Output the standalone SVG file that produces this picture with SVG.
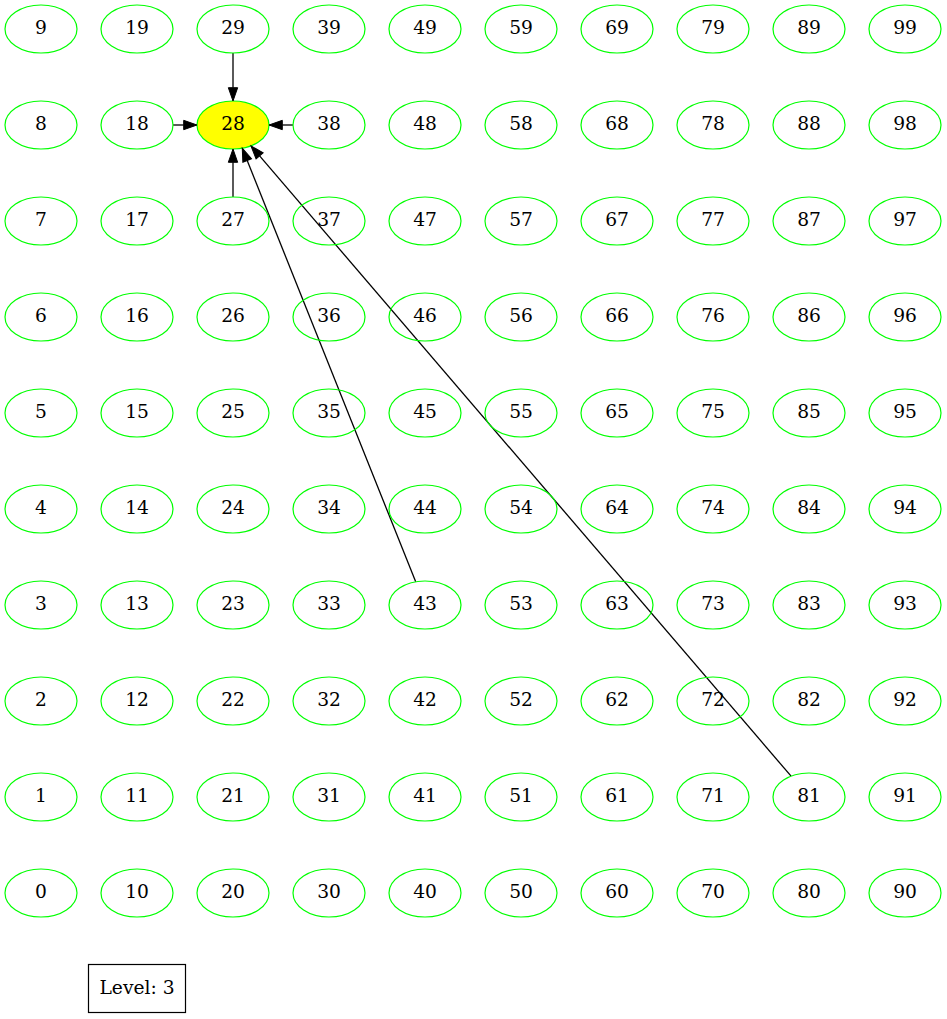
<svg xmlns="http://www.w3.org/2000/svg" width="947" height="1019" viewBox="0 0 947 1019">
<style>
.n ellipse{fill:none;stroke:#00ff00;stroke-width:1.2}
.n text,.lv text{font-family:"DejaVu Serif","Liberation Serif",serif;font-size:18.67px;text-anchor:middle;fill:#000}
.n text{transform:translateY(-1px)}
.e line{stroke:#000;stroke-width:1.3;marker-end:url(#ah)}
.n.hl ellipse{fill:#ffff00}
</style>
<defs>
<marker id="ah" markerUnits="userSpaceOnUse" markerWidth="14" markerHeight="10" refX="0" refY="5" orient="auto" overflow="visible">
<path d="M0,0.33 L13.3,5 L0,9.67 Z" fill="#000" stroke="#000" stroke-width="1"/>
</marker>
</defs>
<rect width="947" height="1019" fill="#fff"/>
<g id="n28" class="n hl"><ellipse cx="233" cy="125" rx="36" ry="24"/><text x="233" y="131">28</text></g>
<g id="edges" class="e">
<line x1="233" y1="53" x2="233" y2="87.7"/>
<line x1="173" y1="125" x2="183.7" y2="125"/>
<line x1="293" y1="125" x2="282.3" y2="125"/>
<line x1="233" y1="197" x2="233" y2="162.3"/>
<line x1="415.7" y1="581.8" x2="247.2" y2="160.5"/>
<line x1="791.1" y1="776.2" x2="259.6" y2="155.9"/>
</g>
<g id="n0" class="n"><ellipse cx="41" cy="893" rx="36" ry="24"/><text x="41" y="899">0</text></g>
<g id="n1" class="n"><ellipse cx="41" cy="797" rx="36" ry="24"/><text x="41" y="803">1</text></g>
<g id="n2" class="n"><ellipse cx="41" cy="701" rx="36" ry="24"/><text x="41" y="707">2</text></g>
<g id="n3" class="n"><ellipse cx="41" cy="605" rx="36" ry="24"/><text x="41" y="611">3</text></g>
<g id="n4" class="n"><ellipse cx="41" cy="509" rx="36" ry="24"/><text x="41" y="515">4</text></g>
<g id="n5" class="n"><ellipse cx="41" cy="413" rx="36" ry="24"/><text x="41" y="419">5</text></g>
<g id="n6" class="n"><ellipse cx="41" cy="317" rx="36" ry="24"/><text x="41" y="323">6</text></g>
<g id="n7" class="n"><ellipse cx="41" cy="221" rx="36" ry="24"/><text x="41" y="227">7</text></g>
<g id="n8" class="n"><ellipse cx="41" cy="125" rx="36" ry="24"/><text x="41" y="131">8</text></g>
<g id="n9" class="n"><ellipse cx="41" cy="29" rx="36" ry="24"/><text x="41" y="35">9</text></g>
<g id="n10" class="n"><ellipse cx="137" cy="893" rx="36" ry="24"/><text x="137" y="899">10</text></g>
<g id="n11" class="n"><ellipse cx="137" cy="797" rx="36" ry="24"/><text x="137" y="803">11</text></g>
<g id="n12" class="n"><ellipse cx="137" cy="701" rx="36" ry="24"/><text x="137" y="707">12</text></g>
<g id="n13" class="n"><ellipse cx="137" cy="605" rx="36" ry="24"/><text x="137" y="611">13</text></g>
<g id="n14" class="n"><ellipse cx="137" cy="509" rx="36" ry="24"/><text x="137" y="515">14</text></g>
<g id="n15" class="n"><ellipse cx="137" cy="413" rx="36" ry="24"/><text x="137" y="419">15</text></g>
<g id="n16" class="n"><ellipse cx="137" cy="317" rx="36" ry="24"/><text x="137" y="323">16</text></g>
<g id="n17" class="n"><ellipse cx="137" cy="221" rx="36" ry="24"/><text x="137" y="227">17</text></g>
<g id="n18" class="n"><ellipse cx="137" cy="125" rx="36" ry="24"/><text x="137" y="131">18</text></g>
<g id="n19" class="n"><ellipse cx="137" cy="29" rx="36" ry="24"/><text x="137" y="35">19</text></g>
<g id="n20" class="n"><ellipse cx="233" cy="893" rx="36" ry="24"/><text x="233" y="899">20</text></g>
<g id="n21" class="n"><ellipse cx="233" cy="797" rx="36" ry="24"/><text x="233" y="803">21</text></g>
<g id="n22" class="n"><ellipse cx="233" cy="701" rx="36" ry="24"/><text x="233" y="707">22</text></g>
<g id="n23" class="n"><ellipse cx="233" cy="605" rx="36" ry="24"/><text x="233" y="611">23</text></g>
<g id="n24" class="n"><ellipse cx="233" cy="509" rx="36" ry="24"/><text x="233" y="515">24</text></g>
<g id="n25" class="n"><ellipse cx="233" cy="413" rx="36" ry="24"/><text x="233" y="419">25</text></g>
<g id="n26" class="n"><ellipse cx="233" cy="317" rx="36" ry="24"/><text x="233" y="323">26</text></g>
<g id="n27" class="n"><ellipse cx="233" cy="221" rx="36" ry="24"/><text x="233" y="227">27</text></g>
<g id="n29" class="n"><ellipse cx="233" cy="29" rx="36" ry="24"/><text x="233" y="35">29</text></g>
<g id="n30" class="n"><ellipse cx="329" cy="893" rx="36" ry="24"/><text x="329" y="899">30</text></g>
<g id="n31" class="n"><ellipse cx="329" cy="797" rx="36" ry="24"/><text x="329" y="803">31</text></g>
<g id="n32" class="n"><ellipse cx="329" cy="701" rx="36" ry="24"/><text x="329" y="707">32</text></g>
<g id="n33" class="n"><ellipse cx="329" cy="605" rx="36" ry="24"/><text x="329" y="611">33</text></g>
<g id="n34" class="n"><ellipse cx="329" cy="509" rx="36" ry="24"/><text x="329" y="515">34</text></g>
<g id="n35" class="n"><ellipse cx="329" cy="413" rx="36" ry="24"/><text x="329" y="419">35</text></g>
<g id="n36" class="n"><ellipse cx="329" cy="317" rx="36" ry="24"/><text x="329" y="323">36</text></g>
<g id="n37" class="n"><ellipse cx="329" cy="221" rx="36" ry="24"/><text x="329" y="227">37</text></g>
<g id="n38" class="n"><ellipse cx="329" cy="125" rx="36" ry="24"/><text x="329" y="131">38</text></g>
<g id="n39" class="n"><ellipse cx="329" cy="29" rx="36" ry="24"/><text x="329" y="35">39</text></g>
<g id="n40" class="n"><ellipse cx="425" cy="893" rx="36" ry="24"/><text x="425" y="899">40</text></g>
<g id="n41" class="n"><ellipse cx="425" cy="797" rx="36" ry="24"/><text x="425" y="803">41</text></g>
<g id="n42" class="n"><ellipse cx="425" cy="701" rx="36" ry="24"/><text x="425" y="707">42</text></g>
<g id="n43" class="n"><ellipse cx="425" cy="605" rx="36" ry="24"/><text x="425" y="611">43</text></g>
<g id="n44" class="n"><ellipse cx="425" cy="509" rx="36" ry="24"/><text x="425" y="515">44</text></g>
<g id="n45" class="n"><ellipse cx="425" cy="413" rx="36" ry="24"/><text x="425" y="419">45</text></g>
<g id="n46" class="n"><ellipse cx="425" cy="317" rx="36" ry="24"/><text x="425" y="323">46</text></g>
<g id="n47" class="n"><ellipse cx="425" cy="221" rx="36" ry="24"/><text x="425" y="227">47</text></g>
<g id="n48" class="n"><ellipse cx="425" cy="125" rx="36" ry="24"/><text x="425" y="131">48</text></g>
<g id="n49" class="n"><ellipse cx="425" cy="29" rx="36" ry="24"/><text x="425" y="35">49</text></g>
<g id="n50" class="n"><ellipse cx="521" cy="893" rx="36" ry="24"/><text x="521" y="899">50</text></g>
<g id="n51" class="n"><ellipse cx="521" cy="797" rx="36" ry="24"/><text x="521" y="803">51</text></g>
<g id="n52" class="n"><ellipse cx="521" cy="701" rx="36" ry="24"/><text x="521" y="707">52</text></g>
<g id="n53" class="n"><ellipse cx="521" cy="605" rx="36" ry="24"/><text x="521" y="611">53</text></g>
<g id="n54" class="n"><ellipse cx="521" cy="509" rx="36" ry="24"/><text x="521" y="515">54</text></g>
<g id="n55" class="n"><ellipse cx="521" cy="413" rx="36" ry="24"/><text x="521" y="419">55</text></g>
<g id="n56" class="n"><ellipse cx="521" cy="317" rx="36" ry="24"/><text x="521" y="323">56</text></g>
<g id="n57" class="n"><ellipse cx="521" cy="221" rx="36" ry="24"/><text x="521" y="227">57</text></g>
<g id="n58" class="n"><ellipse cx="521" cy="125" rx="36" ry="24"/><text x="521" y="131">58</text></g>
<g id="n59" class="n"><ellipse cx="521" cy="29" rx="36" ry="24"/><text x="521" y="35">59</text></g>
<g id="n60" class="n"><ellipse cx="617" cy="893" rx="36" ry="24"/><text x="617" y="899">60</text></g>
<g id="n61" class="n"><ellipse cx="617" cy="797" rx="36" ry="24"/><text x="617" y="803">61</text></g>
<g id="n62" class="n"><ellipse cx="617" cy="701" rx="36" ry="24"/><text x="617" y="707">62</text></g>
<g id="n63" class="n"><ellipse cx="617" cy="605" rx="36" ry="24"/><text x="617" y="611">63</text></g>
<g id="n64" class="n"><ellipse cx="617" cy="509" rx="36" ry="24"/><text x="617" y="515">64</text></g>
<g id="n65" class="n"><ellipse cx="617" cy="413" rx="36" ry="24"/><text x="617" y="419">65</text></g>
<g id="n66" class="n"><ellipse cx="617" cy="317" rx="36" ry="24"/><text x="617" y="323">66</text></g>
<g id="n67" class="n"><ellipse cx="617" cy="221" rx="36" ry="24"/><text x="617" y="227">67</text></g>
<g id="n68" class="n"><ellipse cx="617" cy="125" rx="36" ry="24"/><text x="617" y="131">68</text></g>
<g id="n69" class="n"><ellipse cx="617" cy="29" rx="36" ry="24"/><text x="617" y="35">69</text></g>
<g id="n70" class="n"><ellipse cx="713" cy="893" rx="36" ry="24"/><text x="713" y="899">70</text></g>
<g id="n71" class="n"><ellipse cx="713" cy="797" rx="36" ry="24"/><text x="713" y="803">71</text></g>
<g id="n72" class="n"><ellipse cx="713" cy="701" rx="36" ry="24"/><text x="713" y="707">72</text></g>
<g id="n73" class="n"><ellipse cx="713" cy="605" rx="36" ry="24"/><text x="713" y="611">73</text></g>
<g id="n74" class="n"><ellipse cx="713" cy="509" rx="36" ry="24"/><text x="713" y="515">74</text></g>
<g id="n75" class="n"><ellipse cx="713" cy="413" rx="36" ry="24"/><text x="713" y="419">75</text></g>
<g id="n76" class="n"><ellipse cx="713" cy="317" rx="36" ry="24"/><text x="713" y="323">76</text></g>
<g id="n77" class="n"><ellipse cx="713" cy="221" rx="36" ry="24"/><text x="713" y="227">77</text></g>
<g id="n78" class="n"><ellipse cx="713" cy="125" rx="36" ry="24"/><text x="713" y="131">78</text></g>
<g id="n79" class="n"><ellipse cx="713" cy="29" rx="36" ry="24"/><text x="713" y="35">79</text></g>
<g id="n80" class="n"><ellipse cx="809" cy="893" rx="36" ry="24"/><text x="809" y="899">80</text></g>
<g id="n81" class="n"><ellipse cx="809" cy="797" rx="36" ry="24"/><text x="809" y="803">81</text></g>
<g id="n82" class="n"><ellipse cx="809" cy="701" rx="36" ry="24"/><text x="809" y="707">82</text></g>
<g id="n83" class="n"><ellipse cx="809" cy="605" rx="36" ry="24"/><text x="809" y="611">83</text></g>
<g id="n84" class="n"><ellipse cx="809" cy="509" rx="36" ry="24"/><text x="809" y="515">84</text></g>
<g id="n85" class="n"><ellipse cx="809" cy="413" rx="36" ry="24"/><text x="809" y="419">85</text></g>
<g id="n86" class="n"><ellipse cx="809" cy="317" rx="36" ry="24"/><text x="809" y="323">86</text></g>
<g id="n87" class="n"><ellipse cx="809" cy="221" rx="36" ry="24"/><text x="809" y="227">87</text></g>
<g id="n88" class="n"><ellipse cx="809" cy="125" rx="36" ry="24"/><text x="809" y="131">88</text></g>
<g id="n89" class="n"><ellipse cx="809" cy="29" rx="36" ry="24"/><text x="809" y="35">89</text></g>
<g id="n90" class="n"><ellipse cx="905" cy="893" rx="36" ry="24"/><text x="905" y="899">90</text></g>
<g id="n91" class="n"><ellipse cx="905" cy="797" rx="36" ry="24"/><text x="905" y="803">91</text></g>
<g id="n92" class="n"><ellipse cx="905" cy="701" rx="36" ry="24"/><text x="905" y="707">92</text></g>
<g id="n93" class="n"><ellipse cx="905" cy="605" rx="36" ry="24"/><text x="905" y="611">93</text></g>
<g id="n94" class="n"><ellipse cx="905" cy="509" rx="36" ry="24"/><text x="905" y="515">94</text></g>
<g id="n95" class="n"><ellipse cx="905" cy="413" rx="36" ry="24"/><text x="905" y="419">95</text></g>
<g id="n96" class="n"><ellipse cx="905" cy="317" rx="36" ry="24"/><text x="905" y="323">96</text></g>
<g id="n97" class="n"><ellipse cx="905" cy="221" rx="36" ry="24"/><text x="905" y="227">97</text></g>
<g id="n98" class="n"><ellipse cx="905" cy="125" rx="36" ry="24"/><text x="905" y="131">98</text></g>
<g id="n99" class="n"><ellipse cx="905" cy="29" rx="36" ry="24"/><text x="905" y="35">99</text></g>
<g id="level" class="lv"><rect x="88.5" y="964.5" width="97" height="48" fill="#fff" stroke="#000" stroke-width="1.2"/><text x="137" y="994">Level: 3</text></g>
</svg>
